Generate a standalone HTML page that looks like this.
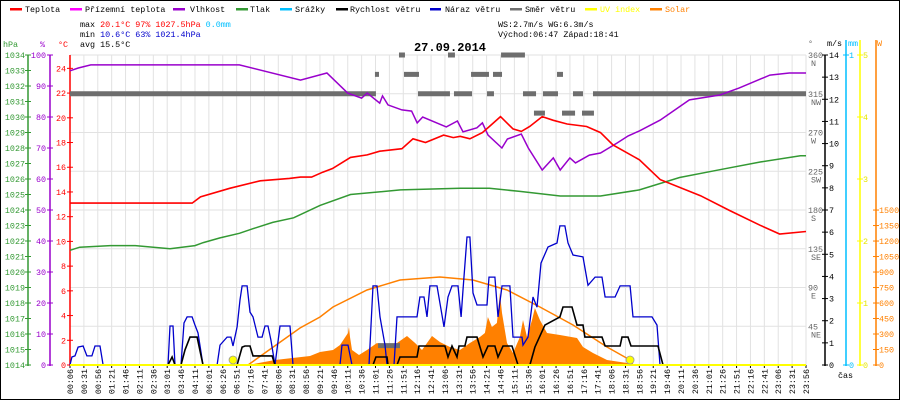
<!DOCTYPE html>
<html><head><meta charset="utf-8">
<style>
html,body{margin:0;padding:0;background:#fff}
svg{display:block;font-family:"Liberation Mono","DejaVu Sans Mono",monospace}
</style></head>
<body>
<svg id="chart" width="900" height="400" viewBox="0 0 900 400" xmlns="http://www.w3.org/2000/svg">
<rect x="0.5" y="0.5" width="899" height="399" fill="#fff" stroke="#000"/>
<g id="grid"></g>
<g id="legend" font-size="8.4">
 <g><rect x="10" y="8" width="12" height="2.5" fill="#ff0000"/><text x="25" y="12">Teplota</text></g>
 <g><rect x="70" y="8" width="12" height="2.5" fill="#ff00ff"/><text x="85" y="12">Přízemní teplota</text></g>
 <g><rect x="173" y="8" width="12" height="2.5" fill="#9900cc"/><text x="190" y="12">Vlhkost</text></g>
 <g><rect x="236" y="8" width="12" height="2.5" fill="#339933"/><text x="250" y="12">Tlak</text></g>
 <g><rect x="280" y="8" width="12" height="2.5" fill="#00bfff"/><text x="295" y="12">Srážky</text></g>
 <g><rect x="336" y="8" width="12" height="2.5" fill="#000"/><text x="350" y="12">Rychlost větru</text></g>
 <g><rect x="430" y="8" width="11" height="2.5" fill="#0000cc"/><text x="445" y="12">Náraz větru</text></g>
 <g><rect x="510" y="8" width="12" height="2.5" fill="#707070"/><text x="525" y="12">Směr větru</text></g>
 <g><rect x="585" y="8" width="12" height="2.5" fill="#ffff00"/><text x="600" y="12" fill="#ffff00">UV index</text></g>
 <g><rect x="650" y="8" width="12" height="2.5" fill="#ff8000"/><text x="665" y="12" fill="#ff8000">Solar</text></g>
</g>
<g font-size="8.4">
 <text x="80" y="27">max <tspan fill="#ff0000">20.1°C  97%  1027.5hPa</tspan>   <tspan fill="#00bfff">0.0mm</tspan></text>
 <text x="80" y="37">min <tspan fill="#0000cc">10.6°C  63%  1021.4hPa</tspan></text>
 <text x="80" y="47">avg 15.5°C</text>
 <text x="498" y="27">WS:2.7m/s    WG:6.3m/s</text>
 <text x="498" y="37">Východ:06:47 Západ:18:41</text>
</g>
<text x="450" y="51" text-anchor="middle" font-size="12" font-weight="bold">27.09.2014</text>
<g id="axes" font-size="8.4"></g>
<g id="series"></g>
</svg>
<script>
// ===== data =====
const timeLabels=["00:06","00:31","00:56","01:21","01:46","02:11","02:36","03:01","03:46","04:11","06:01","06:26","06:51","07:16","07:41","08:06","08:31","08:56","09:21","09:46","10:11","10:36","11:01","11:26","11:51","12:16","12:41","13:06","13:31","13:56","14:21","14:46","15:11","15:36","16:01","16:26","16:51","17:16","17:41","18:06","18:31","18:56","19:21","19:46","20:11","20:36","21:01","21:26","21:51","22:16","22:41","23:06","23:31","23:56"];
const tempIdx=[0,8.8,9.4,11.5,13.7,15.8,16.6,17.4,18.2,18.9,20.2,21.4,22.3,23.9,24.7,25.6,26.9,27.6,28.1,28.8,29.7,30.2,31.0,31.9,32.5,33.1,34.0,34.8,35.8,37.2,38.2,39.1,41.0,42.5,45.4,47.5,49.7,51.1,53];
const tempVal=[13.1,13.1,13.6,14.3,14.9,15.1,15.2,15.2,15.6,15.9,16.8,17.0,17.3,17.5,18.3,18.0,18.6,18.4,18.5,18.3,18.8,19.3,20.1,19.1,18.9,19.3,20.1,19.8,19.5,19.3,18.8,17.8,16.6,15.0,13.7,12.5,11.3,10.6,10.8];
const humIdx=[0,0.6,1.5,12.2,16.6,18.5,20.0,21.0,21.4,22.3,22.5,22.9,23.9,24.6,25.0,25.4,27.1,27.9,28.3,29.3,29.7,30.1,31.1,31.5,32.5,33.0,34.0,34.8,35.3,36.0,36.4,37.4,38.2,39.4,40.2,41.0,42.5,44.6,46.8,48.2,50.4,51.8,53];
const humVal=[94.9,95.8,96.8,96.8,91.9,94.2,87.7,86.1,87.7,84.5,86.8,83.9,82.3,81.9,78.1,80.0,76.8,78.7,75.2,76.5,78.1,74.2,70.0,72.9,74.5,70.0,62.9,66.8,62.9,66.8,65.2,67.7,68.4,71.6,73.9,75.5,79.0,85.5,87.1,89.4,93.5,94.2,94.2];
const presIdx=[0,0.7,2.9,4.7,7.2,9.0,9.6,10.8,12.2,13.2,14.6,16.1,18.0,20.2,23.8,28.1,30.2,32.4,35.3,38.2,41.0,43.9,46.8,49.7,52.6,53];
const presVal=[1021.4,1021.6,1021.7,1021.7,1021.5,1021.7,1021.9,1022.2,1022.5,1022.8,1023.2,1023.5,1024.3,1025.0,1025.3,1025.4,1025.4,1025.2,1024.9,1024.9,1025.3,1026.1,1026.6,1027.1,1027.5,1027.5];
const gustIdx=[0,0.14,0.36,0.58,0.94,1.22,1.58,1.8,2.16,2.38,7.06,7.2,7.42,7.56,7.99,8.21,8.43,8.79,9.0,9.22,9.58,10.59,10.8,11.31,11.59,11.74,12.03,12.24,12.39,12.75,12.96,13.18,13.54,13.83,14.04,14.26,14.47,14.76,15.12,15.84,16.06,19.44,19.59,20.02,20.31,21.53,21.82,22.11,22.32,22.68,22.83,23.33,23.55,24.99,25.2,25.49,25.71,25.92,26.43,26.93,27.22,27.51,27.94,28.16,28.3,28.59,28.8,29.02,29.31,30.03,30.17,30.6,30.82,31.11,31.68,31.9,32.55,32.62,32.98,33.34,33.63,33.92,34.42,35.07,35.28,35.64,35.86,36.22,36.94,37.3,37.81,38.31,38.53,39.25,39.61,40.33,40.54,41.91,42.27,42.49];
const gustVal=[0,0.36,0.41,0.81,0.86,0.41,0.41,0.86,0.86,0,0,1.76,1.76,0,0,1.9,2.17,2.17,1.8,1.45,0,0,0.9,1.26,1.26,0.86,1.72,2.94,3.57,3.57,2.39,2.17,1.26,1.26,1.76,1.76,1.13,0,1.76,1.76,0,0,0.9,0.9,0,0,3.57,3.57,2.17,0.9,0,0,2.17,2.17,3.07,3.07,2.17,3.57,3.57,1.72,3.07,3.57,3.57,2.17,3.39,5.78,5.78,3.25,2.71,2.71,3.97,3.97,2.17,3.57,3.57,1.26,1.26,0.9,1.26,3.07,2.61,4.6,5.33,5.51,6.28,6.28,5.51,4.97,4.88,3.6,3.97,3.97,3.07,3.07,3.57,3.57,2.17,2.17,1.8,0];
const speedIdx=[0,7.06,7.35,7.56,7.99,8.28,8.64,9.15,9.58,12.03,12.39,12.6,12.96,13.18,14.55,14.76,21.82,22.03,22.83,22.9,23.55,23.76,24.99,25.13,27.0,27.22,27.51,27.87,28.01,28.44,28.59,29.31,29.74,30.1,30.6,30.82,31.18,31.83,32.26,33.12,33.48,34.2,35.28,35.5,36.15,36.51,36.94,37.08,38.31,38.53,39.61,39.75,40.18,40.4,42.34,42.7,53];
const speedVal=[0,0,0.36,0,0,0.68,1.26,1.26,0,0,0.81,0.86,0.86,0.41,0.41,0,0,0.36,0.36,0,0,0.36,0.36,0.86,0.86,0.36,0.86,0.36,0.86,0.86,1.26,1.26,0.36,0.86,0.86,0.36,0.86,0.86,0,0,0.81,1.8,2.17,2.62,2.62,1.8,1.8,1.26,1.26,0.86,0.86,1.26,1.26,0.86,0.86,0,0];
const solarIdx=[12.82,14.76,17.28,18.0,18.94,19.44,20.02,20.09,20.16,20.31,20.81,21.39,22.11,22.83,23.55,24.27,24.85,25.35,26.07,26.64,27.36,28.08,28.8,29.52,29.88,30.09,30.38,30.74,30.96,31.11,31.47,31.9,32.4,32.62,32.91,33.27,33.48,33.84,34.35,35.28,36.51,36.94,37.66,38.67,40.11,40.54];
const solarVal=[0,48,87,126,145,194,310,368,271,145,97,145,213,174,213,281,213,145,281,223,174,145,213,271,310,465,368,407,697,503,213,116,271,436,271,436,552,436,310,290,261,174,116,48,19,0];
const clearIdx=[12.82,16.56,18.0,18.94,21.39,23.76,26.64,29.02,31.47,33.84,36.22,38.67,40.33,40.54];
const clearVal=[0,358,465,561,726,823,852,823,726,561,387,174,48,0];
const dirStart=[0,25.06,27.65,30.03,32.62,34.06,36.22,37.66,21.96,24.05,28.88,30.46,35.07,23.69,27.22,31.04,33.41,35.43,36.87,22.18];
const dirEnd=[22.03,27.36,28.95,30.53,33.56,35.14,36.94,53,22.25,25.13,30.17,31.11,35.5,24.12,27.72,32.76,34.2,36.37,37.73,23.76];
const dirDeg=[315,315,315,315,315,315,315,315,337.5,337.5,337.5,337.5,337.5,360,360,360,292.5,292.5,292.5,22.5];
const sunEventsIdx=[11.74,40.33];
const hPaTicks=[1014,1015,1016,1017,1018,1019,1020,1021,1022,1023,1024,1025,1026,1027,1028,1029,1030,1031,1032,1033,1034];
const humTicks=[0,10,20,30,40,50,60,70,80,90,100];
const tempTicks=[0,2,4,6,8,10,12,14,16,18,20,22,24];
const dirTicks=[45,90,135,180,225,270,315,360];
const dirNames=["NE","E","SE","S","SW","W","NW","N"];
const msTicks=[0,1,2,3,4,5,6,7,8,9,10,11,12,13,14];
const uvTicks=[0,1,2,3,4,5];
const wTicks=[0,150,300,450,600,750,900,1050,1200,1350,1500];

// ===== scales =====
const X=i=>70+i*736/53;
const yT=t=>365-t*12.36;
const yH=h=>365-h*3.1;
const yP=p=>365-(p-1014)*15.5;
const yV=v=>365-v*310/14;
const yW=w=>365-w*0.1033;
const yD=d=>365-d*310/360;
const yUV=u=>365-u*62;
const NS="http://www.w3.org/2000/svg";
function mk(tag,attrs,parent){const e=document.createElementNS(NS,tag);for(const k in attrs)e.setAttribute(k,attrs[k]);parent.appendChild(e);return e;}
const grid=document.getElementById('grid'),axes=document.getElementById('axes'),series=document.getElementById('series');

// grid
timeLabels.forEach((lab,i)=>{
 const l=mk('line',{x1:X(i),x2:X(i),y1:55,y2:365,stroke:'#e2e2e2'},grid);
 
 
 mk('line',{x1:X(i),x2:X(i),y1:365,y2:368,stroke:'#000'},grid);
 const t=mk('text',{x:0,y:0,'font-size':'8.4','text-anchor':'end',transform:`translate(${X(i)+3},369) rotate(-90)`},axes);
 t.textContent=lab;
 
 
});
dirTicks.forEach(d=>{
 const l=mk('line',{x1:70,x2:806,y1:yD(d),y2:yD(d),stroke:'#e2e2e2'},grid);
 
 
});

// left axes
mk('line',{x1:28,x2:28,y1:55,y2:366,stroke:'#339933','stroke-width':1.5},axes);
mk('line',{x1:50,x2:50,y1:55,y2:366,stroke:'#9900cc','stroke-width':1.5},axes);
mk('line',{x1:70,x2:70,y1:55,y2:366,stroke:'#ff0000','stroke-width':1.5},axes);
[['hPa',3,'#339933'],['%',40,'#9900cc'],['°C',58,'#ff0000']].forEach(a=>{const t=mk('text',{x:a[1],y:47,fill:a[2]},axes);t.textContent=a[0];});
hPaTicks.forEach(p=>{mk('line',{x1:25,x2:31,y1:yP(p),y2:yP(p),stroke:'#339933'},axes);const t=mk('text',{x:25,y:yP(p)+3,fill:'#339933','text-anchor':'end'},axes);t.textContent=p;});
humTicks.forEach(h=>{mk('line',{x1:47,x2:53,y1:yH(h),y2:yH(h),stroke:'#9900cc'},axes);const t=mk('text',{x:46,y:yH(h)+3,fill:'#9900cc','text-anchor':'end'},axes);t.textContent=h;});
tempTicks.forEach(v=>{mk('line',{x1:67,x2:73,y1:yT(v),y2:yT(v),stroke:'#ff0000'},axes);const t=mk('text',{x:66,y:yT(v)+3,fill:'#ff0000','text-anchor':'end'},axes);t.textContent=v;});

// right axes
mk('line',{x1:825,x2:825,y1:55,y2:366,stroke:'#000','stroke-width':1.5},axes);
mk('line',{x1:846,x2:846,y1:40,y2:366,stroke:'#00bfff','stroke-width':1.5},axes);
mk('line',{x1:860,x2:860,y1:40,y2:366,stroke:'#ffff00','stroke-width':1.5},axes);
mk('line',{x1:876,x2:876,y1:40,y2:366,stroke:'#ff8000','stroke-width':1.5},axes);
[['°',808,'#666'],['m/s',827,'#000'],['mm',848,'#00bfff'],['W',877,'#ff8000']].forEach(a=>{const t=mk('text',{x:a[1],y:46,fill:a[2]},axes);t.textContent=a[0];});
dirTicks.forEach((d,i)=>{const t=mk('text',{x:808,y:yD(d)+3,fill:'#666'},axes);t.textContent=d;
 const n=mk('text',{x:811,y:yD(d)+11,fill:'#666'},axes);n.textContent=dirNames[i];});
msTicks.forEach(v=>{mk('line',{x1:822,x2:828,y1:yV(v),y2:yV(v),stroke:'#000'},axes);const t=mk('text',{x:829,y:yV(v)+3},axes);t.textContent=v;});
[[0,365],[1,55]].forEach(a=>{mk('line',{x1:843,x2:849,y1:a[1],y2:a[1],stroke:'#00bfff'},axes);const t=mk('text',{x:849,y:a[1]+3,fill:'#00bfff'},axes);t.textContent=a[0];});
uvTicks.forEach(u=>{mk('line',{x1:857,x2:863,y1:yUV(u),y2:yUV(u),stroke:'#ffff00'},axes);const t=mk('text',{x:863,y:yUV(u)+3,fill:'#e6e600'},axes);t.textContent=u;});
wTicks.forEach(w=>{mk('line',{x1:873,x2:879,y1:yW(w),y2:yW(w),stroke:'#ff8000'},axes);const t=mk('text',{x:879,y:yW(w)+3,fill:'#ff8000'},axes);t.textContent=w;});
const cas=mk('text',{x:838,y:378},axes);cas.textContent='čas';

// series
function pts(idx,val,yf){return idx.map((i,k)=>X(i).toFixed(1)+','+yf(val[k]).toFixed(1)).join(' ');}
let sol=mk('polygon',{points:X(solarIdx[0])+',365 '+pts(solarIdx,solarVal,yW)+' '+X(solarIdx[solarIdx.length-1])+',365',fill:'#ff8000'},series);


dirDeg.forEach((d,k)=>{
 const r=mk('rect',{x:X(dirStart[k]),y:yD(d)-2.5,width:X(dirEnd[k])-X(dirStart[k]),height:5,fill:'#6e6e6e'},series);
 
 
});
let cl=mk('polyline',{points:pts(clearIdx,clearVal,yW),fill:'none',stroke:'#ff8000','stroke-width':1.5},series);


let pr=mk('polyline',{points:pts(presIdx,presVal,yP),fill:'none',stroke:'#339933','stroke-width':1.5},series);


let hu=mk('polyline',{points:pts(humIdx,humVal,yH),fill:'none',stroke:'#9900cc','stroke-width':1.5},series);


let te=mk('polyline',{points:pts(tempIdx,tempVal,yT),fill:'none',stroke:'#ff0000','stroke-width':1.6},series);


let gu=mk('polyline',{points:pts(gustIdx,gustVal,yV),fill:'none',stroke:'#0000cc','stroke-width':1.3},series);


let sp=mk('polyline',{points:pts(speedIdx,speedVal,yV),fill:'none',stroke:'#000','stroke-width':1.6},series);


let uv=mk('line',{x1:70,x2:806,y1:365,y2:365,stroke:'#ffff00','stroke-width':2},series);


sunEventsIdx.forEach(i=>{
 const c=mk('circle',{cx:X(i),cy:360,r:4,fill:'#ffff00',stroke:'#999','stroke-width':0.8},series);
 
 
});
</script>
</body></html>
